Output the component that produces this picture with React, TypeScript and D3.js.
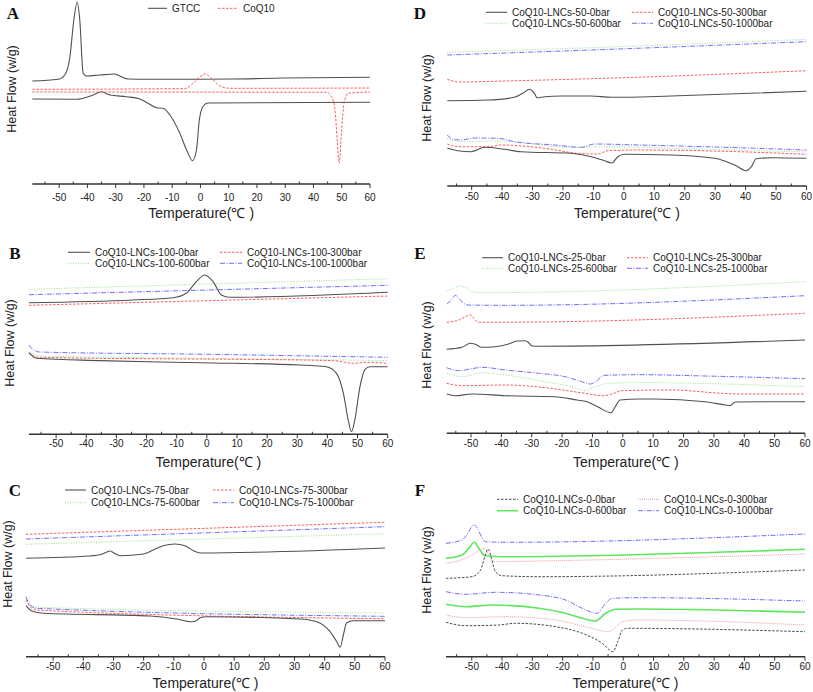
import React from 'react';
import * as d3 from 'd3';

type Pt = [number, number];

// ---------- Data (temperature °C, heat flow in arbitrary units) ----------
// Panel A
const A_GTCC_upper: Pt[] = [[-59.5,103],[-50.3,104.7],[-48,109],[-46.2,127],[-44.8,164],[-43.6,182],[-42.7,164],[-41.5,110.7],[-40.3,108],[-35.6,109],[-30.3,110],[-28.5,108],[-25.6,105],[-17.9,104.7],[11.6,105],[29.3,106],[60,106.7]];
const A_GTCC_lower: Pt[] = [[-59.5,85],[-43.9,84.7],[-38,89],[-35,92.3],[-32,89],[-26.2,87.3],[-21.4,85],[-18.5,80.7],[-15.5,76.3],[-13.2,75.7],[-10.8,69],[-7.3,50.7],[-4.9,34],[-2.8,23.3],[-1.4,34],[-0.4,64],[1,78],[2.7,81],[60,81.7]];
const A_CoQ10_upper: Pt[] = [[-59.5,94.7],[-5.5,95.3],[-2.6,100.7],[-0.2,107.3],[1.8,110],[3.9,105.7],[6.9,98],[10.4,95.7],[60,96]];
const A_CoQ10_lower: Pt[] = [[-59.5,92],[44.6,91.7],[46.4,87.3],[47.6,74],[48.4,44],[49.1,20.7],[49.9,50.7],[50.8,80.7],[52.3,90.7],[60,92]];
const A_labels = ['GTCC', 'CoQ10'];

// Panel B (100)
const B_0_up: Pt[] = [[-59,131.6],[-24.5,134.3],[-11.2,136.6],[-6.8,141],[-3.5,152.6],[-0.7,159.3],[2.1,152.6],[4.8,139.3],[7.6,137],[60,142]];
const B_300_up: Pt[] = [[-59,129],[60,138.3]];
const B_600_up: Pt[] = [[-59,145],[60,155.6]];
const B_1000_up: Pt[] = [[-59,139.6],[60,149]];
const B_0_lo: Pt[] = [[-59,81.6],[-56.6,76],[-35.6,73.7],[-2.4,71.6],[30.9,69.3],[39.7,67.6],[43,61],[45.3,41],[46.9,14.3],[48,2.6],[49.1,14.3],[50.8,47.6],[52.5,65],[54.1,67.6],[60,67.6]];
const B_300_lo: Pt[] = [[-59,81.6],[-56,77],[42,73.7],[48.6,71],[53,72],[60,71]];
const B_600_lo: Pt[] = [[-59,82.6],[-55.5,78.3],[0,76],[60,73.7]];
const B_1000_lo: Pt[] = [[-59,89.3],[-57.8,85],[-55.5,82.3],[0,80],[60,77]];
const B_labels = ['CoQ10-LNCs-100-0bar','CoQ10-LNCs-100-300bar','CoQ10-LNCs-100-600bar','CoQ10-LNCs-100-1000bar'];

// Panel C (75)
const C_0_up: Pt[] = [[-59,98.4],[-37.8,100.7],[-33.9,102.4],[-31.1,105.7],[-29.5,103],[-27.8,101],[-20.1,102.7],[-16.8,106.7],[-13.5,111],[-9.6,112.7],[-6.3,111],[-3.5,106],[-1.3,103.7],[60,108.7]];
const C_300_up: Pt[] = [[-59,122.4],[60,134.4]];
const C_600_up: Pt[] = [[-59,112.4],[60,123]];
const C_1000_up: Pt[] = [[-59,117.7],[60,130]];
const C_0_lo: Pt[] = [[-59,51],[-57.1,45.7],[-53.2,43.4],[-17.9,40.7],[-9,37.7],[-4.1,35],[-2.5,36],[-1.3,39],[0.9,40],[31.9,37.7],[37.4,35],[41.8,25],[44,15],[45.1,9.4],[46.2,21.7],[47.3,34],[49.5,36],[60,36]];
const C_300_lo: Pt[] = [[-59,56.7],[-57.1,48.4],[-54.3,46.4],[60,38]];
const C_600_lo: Pt[] = [[-59,57.7],[-57.1,51],[-54.3,49.4],[60,43.7]];
const C_1000_lo: Pt[] = [[-59,60],[-57.7,51.7],[-55.4,48.4],[60,40.4]];
const C_labels = ['CoQ10-LNCs-75-0bar','CoQ10-LNCs-75-300bar','CoQ10-LNCs-75-600bar','CoQ10-LNCs-75-1000bar'];

// Panel D (50)
const D_0_up: Pt[] = [[-58,85.3],[-44.7,86],[-36,88.7],[-33.2,92.7],[-31,96.7],[-29.4,92.7],[-28.5,88.3],[-26,89.3],[-20.6,90],[-10.7,90],[-4.2,88.7],[15.6,90],[60,94.7]];
const D_300_up: Pt[] = [[-58,106.7],[-54,104],[-39.2,105],[0,108.3],[60,115.3]];
const D_600_up: Pt[] = [[-58,133.7],[0,139.5],[60,146.7]];
const D_1000_up: Pt[] = [[-58,131],[0,137.2],[60,144.3]];
const D_0_lo: Pt[] = [[-58,37.7],[-54.6,35.3],[-50.2,34.3],[-45.8,38.7],[-39.2,36.7],[-33.8,34.3],[-17.3,32.7],[-10.7,29.3],[-6.4,25.3],[-3.9,23],[-2,29.3],[0.2,31.7],[15.6,31],[29.8,27.7],[36.4,21],[40.2,15.3],[41.9,19.3],[43.5,27.3],[48.5,28.3],[60,27.7]];
const D_300_lo: Pt[] = [[-58,42],[-54.6,39.3],[-44.7,39.3],[-40.3,41],[-26,37.7],[-15.1,32.7],[-8.5,32],[-5.2,35.3],[4.6,36],[37.5,34.3],[60,31.7]];
const D_600_lo: Pt[] = [[-58,47.7],[-53.5,44.3],[-41.4,45],[-17.3,38.7],[-6.3,39.3],[26.5,36.7],[60,34]];
const D_1000_lo: Pt[] = [[-58,51],[-56.2,46.7],[-53.5,46],[-49.1,48],[-41.4,47.7],[-36,44.3],[-22.8,41],[-14,38.7],[-9.6,42],[4.6,41],[26.5,39.3],[60,36]];
const D_labels = ['CoQ10-LNCs-50-0bar','CoQ10-LNCs-50-300bar','CoQ10-LNCs-50-600bar','CoQ10-LNCs-50-1000bar'];

// Panel E (25)
const E_0_up: Pt[] = [[-58,84],[-53,86],[-50.2,90],[-48.6,89],[-46.4,86],[-42,86.6],[-37.6,89.3],[-34.9,92.3],[-32.1,92.6],[-31,90.6],[-29.9,87.3],[-27.7,87],[60,93.3]];
const E_300_up: Pt[] = [[-58,111],[-54,113.3],[-51.3,117.3],[-50.2,118.3],[-49.1,115],[-47.5,111],[-27.7,111.3],[60,120]];
const E_600_up: Pt[] = [[-58,142.3],[-55.7,145],[-53.5,147.3],[-51.3,145],[-49.7,141.6],[-46.4,140.6],[60,151.6]];
const E_1000_up: Pt[] = [[-58,129.3],[-56.3,134],[-55.2,138],[-53.5,133.3],[-51.3,128.3],[-38.7,128],[60,137.6]];
const E_0_lo: Pt[] = [[-58,39.3],[-55.2,37.6],[-49.7,39.3],[-38.7,37.6],[-22.3,36.6],[-15.1,33.3],[-11.8,31.6],[-8,26],[-3.9,20.6],[-2.5,26.6],[-0.9,33.3],[5.2,34.3],[10.6,34.3],[27.1,31.6],[33.7,28.3],[35.3,27.6],[37,31.3],[49,31.6],[60,31.6]];
const E_300_lo: Pt[] = [[-58,50],[-53,47.6],[-38.7,48.3],[-25.5,45.6],[-12.4,40],[-6.4,37.6],[-3.6,39.3],[-0.3,42.6],[16.1,43.3],[32.6,40],[38,39.3],[60,39.3]];
const E_600_lo: Pt[] = [[-58,60],[-53,56.6],[-46.4,60.6],[-38.7,58.3],[-25.5,51.6],[-16.8,46.6],[-12.4,42.6],[-9.1,46.6],[-4.7,50],[5.2,50.6],[60,46.6]];
const E_1000_lo: Pt[] = [[-58,65.6],[-54,62.6],[-49.7,64.6],[-46.4,66],[-38.7,63.3],[-27.7,60],[-19,56.6],[-13.5,51.6],[-10.7,49.3],[-8.6,52.3],[-6.4,57.9],[5.2,58.6],[27.1,57.3],[60,54.6]];
const E_labels = ['CoQ10-LNCs-25-0bar','CoQ10-LNCs-25-300bar','CoQ10-LNCs-25-600bar','CoQ10-LNCs-25-1000bar'];

// Panel F (0)
const F_0_up: Pt[] = [[-58.5,78.4],[-49.9,80],[-47.1,86.7],[-45.5,101.7],[-44.6,107.7],[-43.5,98.4],[-42.2,85],[-40,81],[-27.8,80],[60,86.7]];
const F_300_up: Pt[] = [[-58.5,93.4],[-52.1,98.4],[-48.2,105],[-46,108.4],[-44.4,101.7],[-42.2,95],[-27.8,95.7],[60,102.7]];
const F_600_up: Pt[] = [[-58.5,98.4],[-53.2,101.7],[-51,108.4],[-49.1,114.4],[-47.7,108.4],[-45.5,101],[-38.9,100],[60,107.4]];
const F_1000_up: Pt[] = [[-58.5,113.4],[-53.2,116.7],[-51,125],[-49.5,131.7],[-48.2,129],[-46.8,120],[-45.5,115],[-38.9,114.4],[60,122.7]];
const F_0_lo: Pt[] = [[-58.5,34.4],[-52.1,31],[-41.1,31.7],[-35.6,33.4],[-22.3,30],[-13.5,23.4],[-6.9,13.4],[-3.4,5],[-1.8,15],[-0.3,26.7],[1.3,28.4],[60,25]];
const F_300_lo: Pt[] = [[-58.5,41.7],[-52.1,39],[-38.9,40],[-22.3,36.7],[-11.3,29],[-4.7,25],[-3,28.4],[-0.3,35],[5.2,36.7],[60,31.7]];
const F_600_lo: Pt[] = [[-58.5,52.4],[-52.1,50],[-43.3,51.7],[-27.8,48.4],[-19,43.4],[-13.5,38.4],[-9.3,35.7],[-5.8,43.4],[-2.5,47.4],[5.2,47.7],[60,44.4]];
const F_1000_lo: Pt[] = [[-58.5,65],[-52.1,62.4],[-42.2,64.4],[-27.8,61.7],[-19,56.7],[-13.5,48.4],[-8.6,43.4],[-5.8,53.4],[-3.6,58.4],[5.2,59],[60,55.7]];
const F_labels = ['CoQ10-LNCs-0-0bar','CoQ10-LNCs-0-300bar','CoQ10-LNCs-0-600bar','CoQ10-LNCs-0-1000bar'];

const majorTicks = [-50, -40, -30, -20, -10, 0, 10, 20, 30, 40, 50, 60];
const minorTicks = [-55, -45, -35, -25, -15, -5, 5, 15, 25, 35, 45, 55];
const xTitle = 'Temperature(℃ )';
const yTitle = 'Heat Flow (w/g)';

// ---------- Styles ----------
type Sty = { stroke: string; dash?: string; w: number };
const S: Record<string, Sty> = {
  gray: { stroke: '#505050', w: 1.1 },
  red: { stroke: '#ff5c5c', dash: '2.5,1.5', w: 1 },
  green: { stroke: '#96e096', dash: '1,1.5', w: 1 },
  blue: { stroke: '#6f6fff', dash: '5,1.5,1,1.5', w: 1 },
  grayDash: { stroke: '#4a4a4a', dash: '2.5,1.5', w: 1 },
  pink: { stroke: '#f59a9a', dash: '1,1', w: 1 },
  greenSolid: { stroke: '#5ee65e', w: 1.6 },
};

type LegendItem = { label: string; sty: Sty; x: number; y: number; len: number };
type Panel = {
  letter: string; lx: number; ly: number;
  x0: number; x1: number; dom: [number, number]; axisY: number;
  tickY: number; titleY: number; yLabX: number; yLabY: number;
  series: { data: Pt[]; sty: Sty }[];
  legend: LegendItem[];
};

function leg4(labels: string[], st: Sty[], c1: number, c2: number, r1: number, r2: number, len: number): LegendItem[] {
  return [
    { label: labels[0], sty: st[0], x: c1, y: r1, len },
    { label: labels[1], sty: st[1], x: c2, y: r1, len },
    { label: labels[2], sty: st[2], x: c1, y: r2, len },
    { label: labels[3], sty: st[3], x: c2, y: r2, len },
  ];
}
const std = [S.gray, S.red, S.green, S.blue];
const fsty = [S.grayDash, S.pink, S.greenSolid, S.blue];

const panels: Panel[] = [
  {
    letter: 'A', lx: 13, ly: 13, x0: 32.3, x1: 370, dom: [-59.5, 60], axisY: 184,
    tickY: 197, titleY: 213, yLabX: 12, yLabY: 89,
    series: [
      { data: A_GTCC_upper, sty: S.gray }, { data: A_GTCC_lower, sty: S.gray },
      { data: A_CoQ10_upper, sty: S.red }, { data: A_CoQ10_lower, sty: S.red },
    ],
    legend: [
      { label: A_labels[0], sty: S.gray, x: 148, y: 8.3, len: 19 },
      { label: A_labels[1], sty: S.red, x: 218, y: 8.3, len: 20 },
    ],
  },
  {
    letter: 'B', lx: 15, ly: 253, x0: 29, x1: 387.7, dom: [-59, 60], axisY: 434.3,
    tickY: 443, titleY: 462, yLabX: 10, yLabY: 343,
    series: [
      { data: B_600_up, sty: S.green }, { data: B_1000_up, sty: S.blue }, { data: B_300_up, sty: S.red }, { data: B_0_up, sty: S.gray },
      { data: B_600_lo, sty: S.green }, { data: B_1000_lo, sty: S.blue }, { data: B_300_lo, sty: S.red }, { data: B_0_lo, sty: S.gray },
    ],
    legend: leg4(B_labels, std, 68, 220, 252.3, 263.3, 22),
  },
  {
    letter: 'C', lx: 15, ly: 490, x0: 26, x1: 385, dom: [-59, 60], axisY: 656.7,
    tickY: 666.5, titleY: 683, yLabX: 8, yLabY: 564,
    series: [
      { data: C_600_up, sty: S.green }, { data: C_1000_up, sty: S.blue }, { data: C_300_up, sty: S.red }, { data: C_0_up, sty: S.gray },
      { data: C_600_lo, sty: S.green }, { data: C_1000_lo, sty: S.blue }, { data: C_300_lo, sty: S.red }, { data: C_0_lo, sty: S.gray },
    ],
    legend: leg4(C_labels, std, 65, 213, 490, 502.7, 21),
  },
  {
    letter: 'D', lx: 420, ly: 13, x0: 447.3, x1: 806.5, dom: [-58, 60], axisY: 186,
    tickY: 196.7, titleY: 213, yLabX: 427, yLabY: 98,
    series: [
      { data: D_600_up, sty: S.green }, { data: D_1000_up, sty: S.blue }, { data: D_300_up, sty: S.red }, { data: D_0_up, sty: S.gray },
      { data: D_600_lo, sty: S.green }, { data: D_1000_lo, sty: S.blue }, { data: D_300_lo, sty: S.red }, { data: D_0_lo, sty: S.gray },
    ],
    legend: leg4(D_labels, std, 486, 632, 12.3, 23.3, 21),
  },
  {
    letter: 'E', lx: 420, ly: 253, x0: 446.7, x1: 805, dom: [-58, 60], axisY: 433.3,
    tickY: 443.3, titleY: 462, yLabX: 427, yLabY: 345,
    series: [
      { data: E_600_up, sty: S.green }, { data: E_1000_up, sty: S.blue }, { data: E_300_up, sty: S.red }, { data: E_0_up, sty: S.gray },
      { data: E_600_lo, sty: S.green }, { data: E_1000_lo, sty: S.blue }, { data: E_300_lo, sty: S.red }, { data: E_0_lo, sty: S.gray },
    ],
    legend: leg4(E_labels, std, 482, 627, 257.7, 268.3, 21),
  },
  {
    letter: 'F', lx: 420, ly: 490, x0: 446, x1: 805, dom: [-58.5, 60], axisY: 656.7,
    tickY: 666.5, titleY: 683, yLabX: 427, yLabY: 570,
    series: [
      { data: F_1000_up, sty: S.blue }, { data: F_600_up, sty: S.greenSolid }, { data: F_300_up, sty: S.pink }, { data: F_0_up, sty: S.grayDash },
      { data: F_1000_lo, sty: S.blue }, { data: F_600_lo, sty: S.greenSolid }, { data: F_300_lo, sty: S.pink }, { data: F_0_lo, sty: S.grayDash },
    ],
    legend: leg4(F_labels, fsty, 497, 638, 499.3, 510.7, 21),
  },
];

const SANS = '"Liberation Sans", Arial, Helvetica, sans-serif';
const SERIF = '"Liberation Serif", "Times New Roman", serif';

function PanelView({ p }: { p: Panel }) {
  const x = d3.scaleLinear().domain(p.dom).range([p.x0, p.x1]);
  const y = d3.scaleLinear().domain([0, 180]).range([p.axisY, p.axisY - 180]);
  const line = d3.line<Pt>().x(d => x(d[0])).y(d => y(d[1])).curve(d3.curveMonotoneX);
  const cx = (p.x0 + p.x1) / 2;
  return (
    <g>
      <text x={p.lx} y={p.ly} fontFamily={SERIF} fontWeight="bold" fontSize={17} textAnchor="middle" dominantBaseline="central" fill="#111">{p.letter}</text>
      <text transform={`translate(${p.yLabX},${p.yLabY}) rotate(-90)`} fontFamily={SANS} fontSize={12.5} textAnchor="middle" dominantBaseline="central" fill="#222">{yTitle}</text>
      {p.series.map((s, i) => (
        <path key={i} d={line(s.data) || ''} fill="none" stroke={s.sty.stroke} strokeWidth={s.sty.w} strokeDasharray={s.sty.dash} />
      ))}
      <line x1={p.x0} x2={p.x1} y1={p.axisY} y2={p.axisY} stroke="#333" strokeWidth={1.5} />
      {majorTicks.map(t => (
        <g key={'M' + t}>
          <line x1={x(t)} x2={x(t)} y1={p.axisY} y2={p.axisY + 4} stroke="#333" strokeWidth={1} />
          <text x={x(t)} y={p.tickY} fontFamily={SANS} fontSize={10} textAnchor="middle" dominantBaseline="central" fill="#222">{t}</text>
        </g>
      ))}
      {minorTicks.map(t => (
        <line key={'m' + t} x1={x(t)} x2={x(t)} y1={p.axisY} y2={p.axisY - 2.5} stroke="#333" strokeWidth={1} />
      ))}
      <text x={cx} y={p.titleY} fontFamily={SANS} fontSize={14} textAnchor="middle" dominantBaseline="central" fill="#222">{xTitle}</text>
      {p.legend.map((l, i) => (
        <g key={'l' + i}>
          <line x1={l.x} x2={l.x + l.len} y1={l.y} y2={l.y} stroke={l.sty.stroke} strokeWidth={l.sty.w} strokeDasharray={l.sty.dash} />
          <text x={l.x + l.len + 5} y={l.y} fontFamily={SANS} fontSize={10} dominantBaseline="central" fill="#222">{l.label}</text>
        </g>
      ))}
    </g>
  );
}

export default function App() {
  return (
    <svg width={813} height={692} viewBox="0 0 813 692" style={{ position: 'absolute', left: 0, top: 0, background: '#fff' }}>
      <rect x={0} y={0} width={813} height={692} fill="#fff" />
      {panels.map(p => <PanelView key={p.letter} p={p} />)}
    </svg>
  );
}
